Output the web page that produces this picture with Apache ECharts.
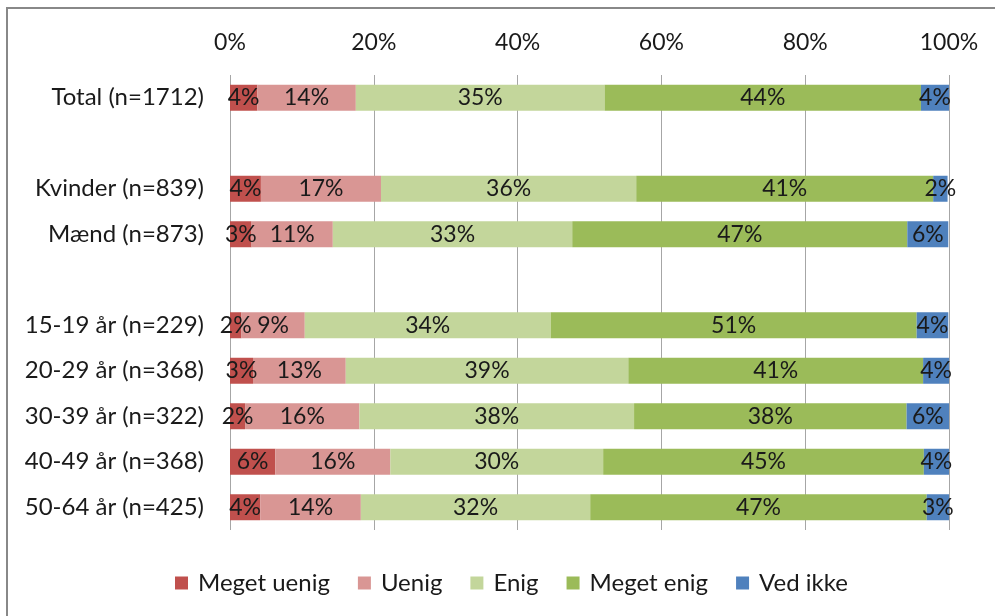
<!DOCTYPE html>
<html>
<head>
<meta charset="utf-8">
<script src="https://cdn.jsdelivr.net/npm/echarts@6/dist/echarts.min.js"></script>
<style>
  html, body { margin: 0; padding: 0; background: #fff; }
  #chart { width: 995px; height: 616px; }
</style>
</head>
<body>
<div id="chart"></div>
<script>
// rows top to bottom, blank strings are spacer rows
const categories = [
  'Total (n=1712)', '',
  'Kvinder (n=839)', 'Mænd (n=873)', ' ',
  '15-19 år (n=229)', '20-29 år (n=368)', '30-39 år (n=322)',
  '40-49 år (n=368)', '50-64 år (n=425)'
]
const seriesNames = ['Meget uenig', 'Uenig', 'Enig', 'Meget enig', 'Ved ikke']
const megetUenig = [3.8, null, 4.3, 3.0, null, 1.6, 3.2, 2.1, 6.3, 4.2]
const uenig      = [13.7, null, 16.7, 11.3, null, 8.8, 12.9, 15.9, 16.0, 14.0]
const enig       = [34.6, null, 35.5, 33.3, null, 34.2, 39.3, 38.2, 29.6, 31.9]
const megetEnig  = [44.0, null, 41.3, 46.6, null, 50.9, 41.0, 37.9, 44.6, 46.8]
const vedIkke    = [4.0, null, 2.0, 5.7, null, 4.4, 3.6, 5.9, 3.6, 3.1]
const colors = ['#c0504d', '#d99694', '#c3d69b', '#9bbb59', '#4f81bd']

const fontFamily = 'Lato, Liberation Sans, sans-serif'
const fontSize = 23
const values = [megetUenig, uenig, enig, megetEnig, vedIkke]

const chart = echarts.init(document.getElementById('chart'))
chart.setOption({
  animation: false,
  textStyle: { fontFamily: fontFamily },
  graphic: [
    {
      type: 'rect',
      shape: { x: 7, y: 8, width: 1000, height: 620 },
      style: { fill: 'none', stroke: '#888', lineWidth: 2 },
      silent: true,
    },
  ],
  grid: {
    left: 230,
    right: 46,
    top: 75,
    bottom: 86,
  },
  legend: {
    top: 566,
    left: 170,
    itemWidth: 13,
    itemHeight: 13,
    itemGap: 28,
    icon: 'rect',
    textStyle: {
      fontSize: 24,
      color: '#1a1a1a',
      fontFamily: fontFamily,
      padding: [0, 0, 0, 5],
    },
    data: seriesNames,
  },
  xAxis: {
    type: 'value',
    position: 'top',
    min: 0,
    max: 100,
    interval: 20,
    axisLine: { show: false },
    axisTick: { show: false },
    axisLabel: {
      formatter: '{value}%',
      fontSize: fontSize,
      color: '#1a1a1a',
      margin: 21,
    },
    splitLine: { lineStyle: { color: '#a6a6a6', width: 1 } },
  },
  yAxis: {
    type: 'category',
    inverse: true,
    data: categories,
    axisLine: { show: false },
    axisTick: { show: false },
    axisLabel: {
      fontSize: 24,
      color: '#1a1a1a',
      margin: 26,
    },
  },
  series: seriesNames.map((name, i) => ({
    name: name,
    type: 'bar',
    stack: 'total',
    barWidth: 26,
    itemStyle: { color: colors[i] },
    label: {
      show: true,
      position: 'inside',
      fontSize: fontSize,
      color: '#1a1a1a',
      formatter: (p) => (p.value == null ? '' : Math.round(p.value) + '%'),
    },
    labelLayout: { hideOverlap: false },
    data: values[i],
  })),
})
</script>
</body>
</html>
